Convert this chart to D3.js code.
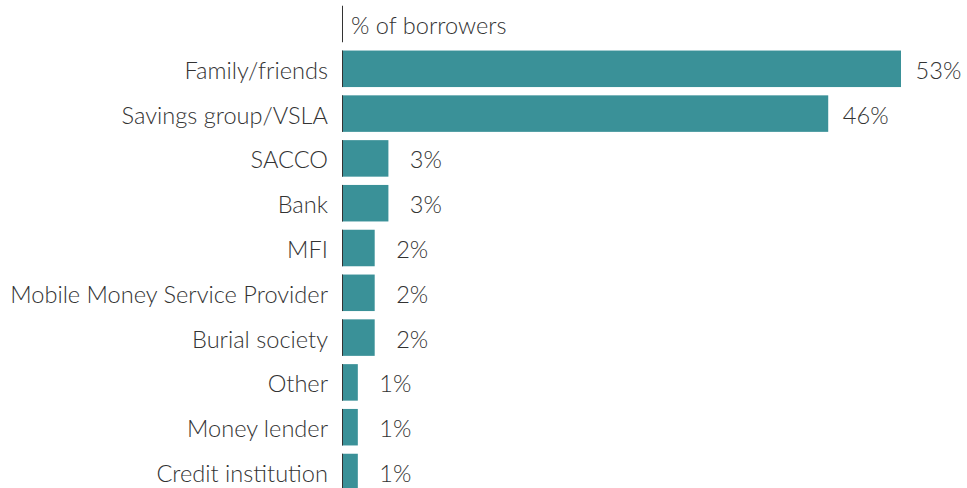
<!DOCTYPE html>
<html>
<head>
<meta charset="utf-8">
<script src="https://cdn.jsdelivr.net/npm/d3@7"></script>
<style>
  body { margin: 0; background: #fff; }
  text { font-family: "Source Sans Pro", Lato, sans-serif; font-weight: 300; fill: #333; }
</style>
</head>
<body>
<svg id="chart"></svg>
<script>
// categories, bar lengths and the printed labels
var categories = ["Family/friends", "Savings group/VSLA", "SACCO", "Bank", "MFI",
  "Mobile Money Service Provider", "Burial society", "Other", "Money lender", "Credit institution"];
var values = [53, 46.1, 4.4, 4.4, 3.1, 3.1, 3.1, 1.5, 1.5, 1.5];
var valueLabels = ["53%", "46%", "3%", "3%", "2%", "2%", "2%", "1%", "1%", "1%"];
var header = "% of borrowers";

var width = 967, height = 488;
var left = 342;
var fontSize = "23.6px";

var svg = d3.select("#chart")
  .attr("width", width)
  .attr("height", height);

var rows = [header].concat(categories);

// rows are 44.8px apart, the header is the first row
var y = d3.scaleBand()
  .domain(rows)
  .range([1.6, 1.6 + 44.8 * rows.length])
  .paddingInner(0.185)
  .paddingOuter(0.0925);

var x = d3.scaleLinear()
  .domain([0, 53])
  .range([left, 901]);

/* de bars */
svg.selectAll(".bar")
  .data(categories)
  .enter()
  .append("rect")
  .attr("class", "bar")
  .attr("x", x(0))
  .attr("y", function(d) { return y(d); })
  .attr("width", function(d, i) { return x(values[i]) - x(0); })
  .attr("height", y.bandwidth())
  .attr("fill", "#3a9198");

/* linker lijntje per rij */
svg.selectAll(".tick-line")
  .data(rows)
  .enter()
  .append("line")
  .attr("x1", left + 0.5)
  .attr("x2", left + 0.5)
  .attr("y1", function(d) { return y(d); })
  .attr("y2", function(d) { return y(d) + y.bandwidth(); })
  .attr("stroke", "#333")
  .attr("stroke-width", 1);

/* categorie labels */
svg.selectAll(".cat")
  .data(categories)
  .enter()
  .append("text")
  .attr("class", "cat")
  .attr("x", left - 14)
  .attr("y", function(d) { return y(d) + y.bandwidth() / 2; })
  .attr("dy", "0.42em")
  .attr("text-anchor", "end")
  .style("font-size", fontSize)
  .text(function(d) { return d; });

/* waarde labels */
svg.selectAll(".val")
  .data(categories)
  .enter()
  .append("text")
  .attr("class", "val")
  .attr("x", function(d, i) { return x(values[i]) + 37.5; })
  .attr("y", function(d) { return y(d) + y.bandwidth() / 2; })
  .attr("dy", "0.42em")
  .attr("text-anchor", "middle")
  .style("font-size", fontSize)
  .text(function(d, i) { return valueLabels[i]; });

svg.append("text")
  .attr("x", left + 9)
  .attr("y", y(header) + y.bandwidth() / 2)
  .attr("dy", "0.42em")
  .style("font-size", fontSize)
  .text(header);
</script>
</body>
</html>
